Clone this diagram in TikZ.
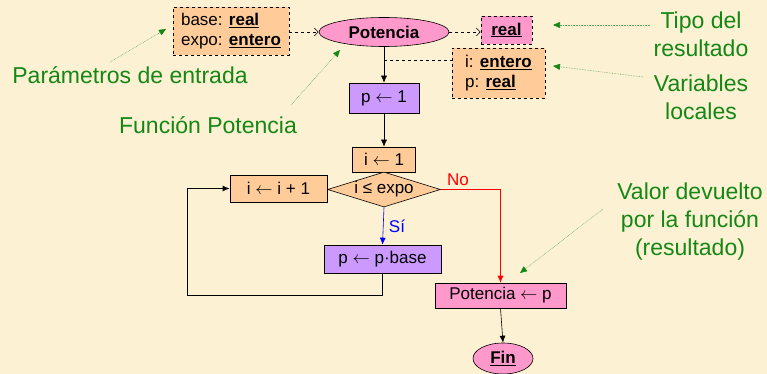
\documentclass[tikz,border=0pt]{standalone}
\usepackage{fontspec}
\setmainfont{Liberation Sans}
\usetikzlibrary{shapes.geometric,arrows.meta}
\definecolor{bg}{RGB}{252,241,210}
\definecolor{peach}{RGB}{255,204,153}
\definecolor{rosa}{RGB}{255,153,204}
\definecolor{lila}{RGB}{204,153,255}
\definecolor{verde}{RGB}{20,135,20}
\definecolor{verdeclaro}{RGB}{90,170,90}
\newcommand{\tipo}[1]{\underline{\textbf{#1}}}
\newcommand{\asig}{\ensuremath{\leftarrow}}
\begin{document}
\begin{tikzpicture}[x=1pt,y=-1pt,
  box/.style={draw, line width=0.6pt, inner sep=0pt, text=black,
    font=\fontsize{17}{20}\selectfont},
  decl/.style={box, dashed},
  note/.style={text=verde, align=center, font=\fontsize{23}{28}\selectfont},
  flow/.style={-{Latex[length=7pt,width=6pt]}, line width=0.6pt},
  declarrow/.style={dashed, line width=0.6pt, -{Straight Barb[length=4pt,width=8pt]}},
  hint/.style={verdeclaro, densely dotted, line width=0.6pt,
    -{Triangle[length=7pt,width=6pt,fill=verde,color=verde]}}]

% background
\fill[bg] (0,0) rectangle (767,374);
\useasboundingbox (0,0) rectangle (767,374);

% header: parameters, function, result type, locals
\node[decl, fill=peach, minimum width=116pt, minimum height=48pt, align=left]
  (param) at (231,31) {base: \tipo{real}\\expo: \tipo{entero}};
\node[box, ellipse, fill=rosa, minimum width=130pt, minimum height=29pt]
  (pot) at (384,32) {\textbf{Potencia}};
\node[decl, fill=rosa, minimum width=51pt, minimum height=28pt]
  (tipo) at (506.5,30) {\tipo{real}};
\node[decl, fill=peach, minimum width=93pt, minimum height=50pt, align=left]
  (vars) at (498.5,73) {i: \tipo{entero}\\p: \tipo{real}};

% body of the algorithm
\node[box, fill=lila, minimum width=70pt, minimum height=30pt]
  (p1) at (384,98) {p \asig{} 1};
\node[box, fill=peach, minimum width=63pt, minimum height=25pt]
  (i1) at (384,159.5) {i \asig{} 1};
\node[box, diamond, fill=peach, aspect=3.2, minimum width=113pt, minimum height=35pt]
  (cond) at (384,189.5) {i ≤ expo};
\node[box, fill=peach, minimum width=97pt, minimum height=27pt]
  (inc) at (278.5,188.5) {i \asig{} i + 1};
\node[box, fill=lila, minimum width=117pt, minimum height=28pt]
  (pp) at (382.5,259) {p \asig{} p·base};
\node[box, fill=rosa, minimum width=131pt, minimum height=25pt]
  (res) at (500.5,295.5) {Potencia \asig{} p};
\node[box, ellipse, fill=rosa, minimum width=60pt, minimum height=31pt]
  (fin) at (503,358.5) {\tipo{Fin}};

% connectors
\draw[declarrow] (param.east |- pot.west) -- (pot.west);
\draw[declarrow] (pot.east) -- (tipo.west |- pot.east);
\draw[dashed, line width=0.6pt] (pot.south |- 0,60) -- (vars.west |- 0,60);
\draw[flow] (pot.south) -- (p1.north);
\draw[flow] (p1.south) -- (i1.north);
\draw[flow, blue] (cond.south) -- (pp.north);
\node[text=blue, font=\fontsize{17}{20}\selectfont] (si) at (397,226) {Sí};
\coordinate (lp) at (187,295);
\draw[flow, line width=1pt] (pp.south) |- (lp) |- (inc.west);
\draw[flow, red] (cond.east) -| (res.north);
\node[text=red, font=\fontsize{17}{20}\selectfont] (no) at (458,180) {No};
\draw[flow] (res.south) -- (fin.north);

% annotations
\node[note] (npar) at (130,75) {Parámetros de entrada};
\node[note] (nfun) at (208,125) {Función Potencia};
\node[note] (ntipo) at (701,34) {Tipo del\\resultado};
\node[note] (nvar) at (701,97) {Variables\\locales};
\node[note] (nval) at (690,222) {Valor devuelto\\por la función\\(resultado)};

\coordinate (a1) at (110,62);  \coordinate (b1) at (166,29);
\coordinate (a2) at (291,105); \coordinate (b2) at (340,50);
\coordinate (a3) at (650,25);  \coordinate (b3) at (553,25);
\coordinate (a4) at (643,77);  \coordinate (b4) at (553,66);
\coordinate (a5) at (603,209); \coordinate (b5) at (520,273);
\draw[hint] (a1) -- (b1);
\draw[hint] (a2) -- (b2);
\draw[hint] (a3) -- (b3);
\draw[hint] (a4) -- (b4);
\draw[hint] (a5) -- (b5);
\end{tikzpicture}
\end{document}
